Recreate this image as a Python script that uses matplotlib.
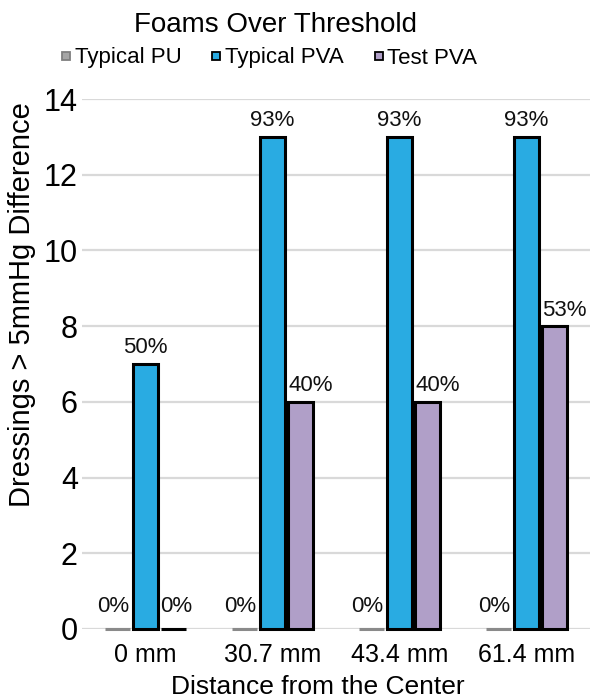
import matplotlib
matplotlib.use("Agg")
import matplotlib.pyplot as plt
from matplotlib.lines import Line2D
import numpy as np

plt.rcParams['font.family'] = ['Liberation Sans', 'DejaVu Sans']

categories = ["0 mm", "30.7 mm", "43.4 mm", "61.4 mm"]
series_names = ["Typical PU", "Typical PVA", "Test PVA"]
typical_pu = [0, 0, 0, 0]
typical_pva = [7, 13, 13, 13]
test_pva = [0, 6, 6, 8]
pu_labels = ["0%", "0%", "0%", "0%"]
pva_labels = ["50%", "93%", "93%", "93%"]
test_labels = ["0%", "40%", "40%", "53%"]
yticks = [0, 2, 4, 6, 8, 10, 12, 14]

fills = ["#a5a5a5", "#29abe2", "#b09fc8"]
edges = ["#8a8a8a", "#000000", "#000000"]

fig = plt.figure(figsize=(5.98, 6.99), dpi=100)
ax = fig.add_axes([82/598, 1-629/699, (590-82)/598, (629-99)/699])

x = np.arange(len(categories))
w = 0.195
offs = [-0.22, 0.0, 0.22]
label_dx = [-3, 0, 2]
data = [typical_pu, typical_pva, test_pva]
labels = [pu_labels, pva_labels, test_labels]
for i in range(3):
    bars = ax.bar(x + offs[i], data[i], width=w,
                  color=fills[i], edgecolor=edges[i], linewidth=2.2, zorder=3, clip_on=False)
    for b, lab in zip(bars, labels[i]):
        h = b.get_height()
        if i == 2 and h > 0:
            ax.annotate(lab, (b.get_x(), h), xytext=(0, 4), textcoords='offset points',
                        ha='left', va='bottom', fontsize=16, color='#111111')
        else:
            ax.annotate(lab, (b.get_x() + b.get_width()/2, h),
                        xytext=(label_dx[i], 4 if h > 0 else 9), textcoords='offset points',
                        ha='center', va='bottom', fontsize=16, color='#111111')

ax.set_xlim(-0.5, 3.5)
ax.set_ylim(0, 14)
ax.set_yticks(yticks)
ax.set_xticks(x)
ax.set_xticklabels(categories, fontsize=18)
ax.tick_params(axis='x', length=0, pad=10)
ax.tick_params(axis='y', length=0, pad=3, labelsize=22)
ax.yaxis.grid(True, color='#d9d9d9', linewidth=1.6, zorder=0)
ax.set_axisbelow(True)
for s in ax.spines.values():
    s.set_visible(False)

fig.text(318/598, 1-687/699, "Distance from the Center", ha='center', va='center', fontsize=19)
fig.text(22/598, 1-305/699, "Dressings > 5mmHg Difference", rotation=90,
         ha='center', va='center', fontsize=21)
fig.text(275/598, 1-25/699, "Foams Over Threshold", ha='center', va='center', fontsize=20)

handles = [Line2D([], [], marker='s', linestyle='none', markersize=5.5,
                  markerfacecolor=fills[i], markeredgecolor=('#7f7f7f' if i == 0 else '#000000'),
                  markeredgewidth=1.3) for i in range(3)]
fig.legend(handles, series_names, loc='center', bbox_to_anchor=(268/598, 1-58/699),
           ncol=3, frameon=False, fontsize=16, handletextpad=0.05, columnspacing=1.2,
           handlelength=0.7, borderaxespad=0)

fig.savefig("out.png", dpi=100)
